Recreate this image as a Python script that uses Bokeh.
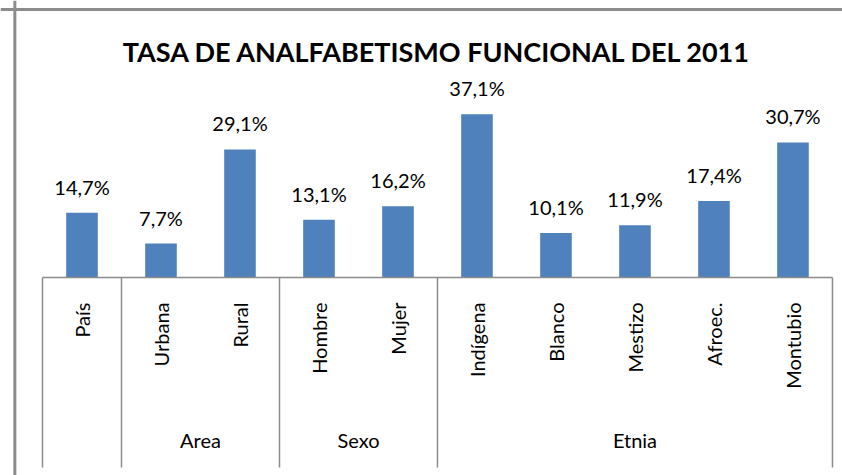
import numpy as np
from bokeh.plotting import figure
from bokeh.models import Range1d, ColumnDataSource, Span
from bokeh.core.properties import value
from bokeh.embed import file_html
from bokeh.resources import INLINE

title_text = "TASA DE ANALFABETISMO FUNCIONAL DEL 2011"
categories = ["País", "Urbana", "Rural", "Hombre", "Mujer",
              "Indígena", "Blanco", "Mestizo", "Afroec.", "Montubio"]
groups = ["", "Area", "Area", "Sexo", "Sexo",
          "Etnia", "Etnia", "Etnia", "Etnia", "Etnia"]
rates = [14.7, 7.7, 29.1, 13.1, 16.2, 37.1, 10.1, 11.9, 17.4, 30.7]

FONT = "Lato"
BAR_COLOR = "#4F81BD"
GRAY = "#8c8c8c"

x = np.arange(len(categories))
labels = [f"{v:.1f}".replace(".", ",") + "%" for v in rates]
src = ColumnDataSource(dict(x=x, top=rates, cat=categories, lab=labels))

p = figure(width=842, height=475, output_backend="svg", toolbar_location=None,
           x_range=Range1d(-1.0316, 9.627), y_range=Range1d(-45.0, 62.95),
           x_axis_location=None, y_axis_location=None, min_border=0)
p.grid.visible = False
p.outline_line_color = None
p.background_fill_color = "white"
p.border_fill_color = "white"

# outer chart frame (left and top edges visible)
p.add_layout(Span(location=-0.85, dimension="height", line_color=GRAY, line_width=3))
p.add_layout(Span(location=60.9, dimension="width", line_color=GRAY, line_width=3))

# bars
p.vbar(x="x", top="top", bottom=0, width=0.4, source=src,
       fill_color=BAR_COLOR, line_color=None)

# data labels
p.text(x="x", y="top", text="lab", source=src, text_align="center",
       text_baseline="middle", y_offset=-26,
       text_font=value(FONT), text_font_size="20px", text_color="black")

# category axis line
n = len(categories)
p.segment(x0=[-0.5], y0=[0], x1=[n - 0.5], y1=[0], line_color=GRAY, line_width=1.5)

# group separators
bounds = [-0.5]
for i in range(1, n):
    if groups[i] != groups[i - 1]:
        bounds.append(i - 0.5)
bounds.append(n - 0.5)
p.segment(x0=bounds, y0=[0] * len(bounds), x1=bounds, y1=[-43.18] * len(bounds),
          line_color=GRAY, line_width=1.5)

# category tick labels (rotated)
p.text(x="x", y=-5.68, text="cat", source=src, angle=np.pi / 2,
       text_align="right", text_baseline="middle",
       text_font=value(FONT), text_font_size="20px", text_color="black")

# group labels
gnames, gcenters = [], []
for a, b in zip(bounds[:-1], bounds[1:]):
    g = groups[int(a + 0.5)]
    if g:
        gnames.append(g)
        gcenters.append((a + b) / 2)
p.text(x=gcenters, y=[-37.0] * len(gnames), text=gnames, text_align="center",
       text_baseline="middle", text_font=value(FONT), text_font_size="20px",
       text_color="black")

# title
p.text(x=[(n - 1) / 2], y=[51.36], text=[title_text], text_align="center",
       text_baseline="middle", text_font=value(FONT), text_font_size="27px",
       text_font_style="bold", text_color="black")

open("out.html", "w").write(file_html(p, INLINE))
